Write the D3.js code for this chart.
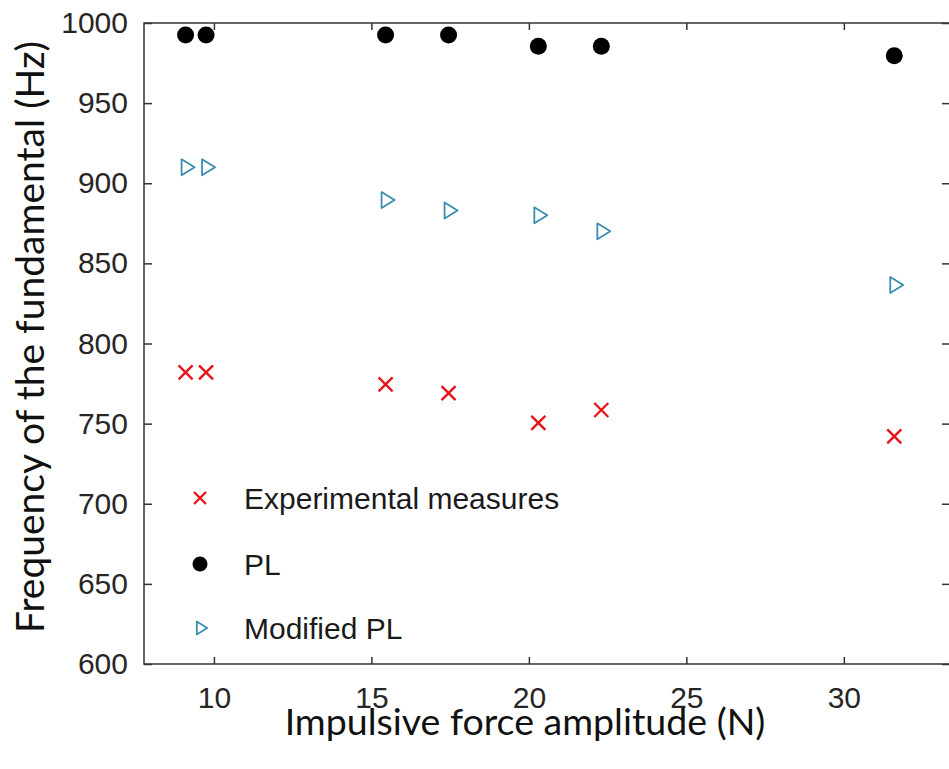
<!DOCTYPE html>
<html>
<head>
<meta charset="utf-8">
<script src="https://cdn.jsdelivr.net/npm/d3@7"></script>
<style>
  body { margin: 0; background: #fff; }
  text { font-family: "Liberation Sans", Arial, sans-serif; fill: #262626; }
</style>
</head>
<body>
<div id="chart"></div>
<script>

// values
const force = [9.1, 9.75, 15.45, 17.45, 20.3, 22.3, 31.6];
const experimental = [782, 782, 774.5, 769, 750.5, 758.5, 742];
const pl = [992.5, 992.5, 992.5, 992.5, 985.5, 985.5, 979.5];
const modifiedPL = [910, 910, 889.5, 883, 880, 870, 836.5];

const xTicks = [10, 15, 20, 25, 30];
const yTicks = [600, 650, 700, 750, 800, 850, 900, 950, 1000];

const legendLabels = ["Experimental measures", "PL", "Modified PL"];

const width = 949, height = 769;
const plot = {left: 144, right: 950, top: 23, bottom: 664};

const svg = d3.select("#chart").append("svg")
    .attr("width", width)
    .attr("height", height);

let x = d3.scaleLinear().domain([7.78, 33.37]).range([plot.left, plot.right]);
let y = d3.scaleLinear().domain([600, 1000]).range([plot.bottom, plot.top]);

const axisColor = "#333";

// frame + inward ticks
svg.append("rect")
    .attr("x", plot.left).attr("y", plot.top)
    .attr("width", plot.right - plot.left)
    .attr("height", plot.bottom - plot.top)
    .attr("fill", "none")
    .attr("stroke", axisColor)
    .attr("stroke-width", 1.5);

let xBottom = svg.append("g")
    .attr("transform", `translate(0, ${plot.bottom})`)
    .call(d3.axisBottom(x).tickValues(xTicks).tickSizeInner(-7).tickSizeOuter(0).tickPadding(23));

let xTop = svg.append("g")
    .attr("transform", `translate(0, ${plot.top})`)
    .call(d3.axisTop(x).tickValues(xTicks).tickSizeInner(-7).tickSizeOuter(0).tickFormat(""));

let yLeft = svg.append("g")
    .attr("transform", `translate(${plot.left}, 0)`)
    .call(d3.axisLeft(y).tickValues(yTicks).tickFormat(d3.format("d"))
        .tickSizeInner(-8).tickSizeOuter(0).tickPadding(16));

let yRight = svg.append("g")
    .attr("transform", `translate(${plot.right}, 0)`)
    .call(d3.axisRight(y).tickValues(yTicks).tickSizeInner(-8).tickSizeOuter(0).tickFormat(""));

[xBottom, xTop, yLeft, yRight].forEach(g => {
    g.select(".domain").remove();
    g.selectAll(".tick line").attr("stroke", axisColor).attr("stroke-width", 1.5);
    g.selectAll(".tick text")
        .attr("font-size", 30)
        .attr("font-family", "Liberation Sans, Arial, sans-serif")
        .attr("fill", "#262626");
});

xBottom.selectAll(".tick text").attr("dy", "0.71em");

// axis titles
svg.append("text")
    .attr("x", 525)
    .attr("y", 735)
    .attr("text-anchor", "middle")
    .style("font-family", "Lato, 'Open Sans', sans-serif")
    .style("fill", "#111")
    .attr("font-size", 37.5)
    .text("Impulsive force amplitude (N)");

svg.append("text")
    .attr("transform", "translate(44, 337) rotate(-90)")
    .attr("text-anchor", "middle")
    .style("font-family", "Lato, 'Open Sans', sans-serif")
    .style("fill", "#111")
    .attr("font-size", 39)
    .text("Frequency of the fundamental (Hz)");

// marker helpers
const red = "#e8141c", blue = "#3a8db0";

function cross(g, s) {
    g.append("path")
        .attr("d", `M${-s},${-s}L${s},${s}M${-s},${s}L${s},${-s}`)
        .attr("stroke", red)
        .attr("stroke-width", 2.4)
        .attr("fill", "none");
}

function triangle(g, k) {
    g.append("path")
        .attr("d", `M${-4 * k},${-8 * k}L${9 * k},0L${-4 * k},${8 * k}Z`)
        .attr("stroke", blue)
        .attr("stroke-width", 1.8)
        .attr("stroke-linejoin", "round")
        .attr("fill", "none");
}

const points = force.map((f, i) => ({f: f, exp: experimental[i], pl: pl[i], mod: modifiedPL[i]}));

svg.append("g").selectAll("circle")
    .data(points)
    .enter().append("circle")
    .attr("cx", d => x(d.f))
    .attr("cy", d => y(d.pl))
    .attr("r", 8.5)
    .attr("fill", "#000");

svg.append("g").selectAll("g")
    .data(points)
    .enter().append("g")
    .attr("transform", d => `translate(${x(d.f)}, ${y(d.mod)})`)
    .each(function () { triangle(d3.select(this), 1); });

svg.append("g").selectAll("g")
    .data(points)
    .enter().append("g")
    .attr("transform", d => `translate(${x(d.f)}, ${y(d.exp)})`)
    .each(function () { cross(d3.select(this), 7); });

// legend
let legend = svg.append("g").attr("class", "legend");
const legendY = [498, 564, 628];

legendLabels.forEach((label, i) => {
    let row = legend.append("g").attr("transform", `translate(200, ${legendY[i]})`);
    if (i === 0) cross(row, 6);
    else if (i === 1) row.append("circle").attr("r", 7.5).attr("fill", "#000");
    else triangle(row, 0.8);

    row.append("text")
        .attr("x", 44)
        .attr("dy", "0.35em")
        .attr("font-size", 30)
        .style("fill", "#1a1a1a")
        .text(label);
});

</script>
</body>
</html>
